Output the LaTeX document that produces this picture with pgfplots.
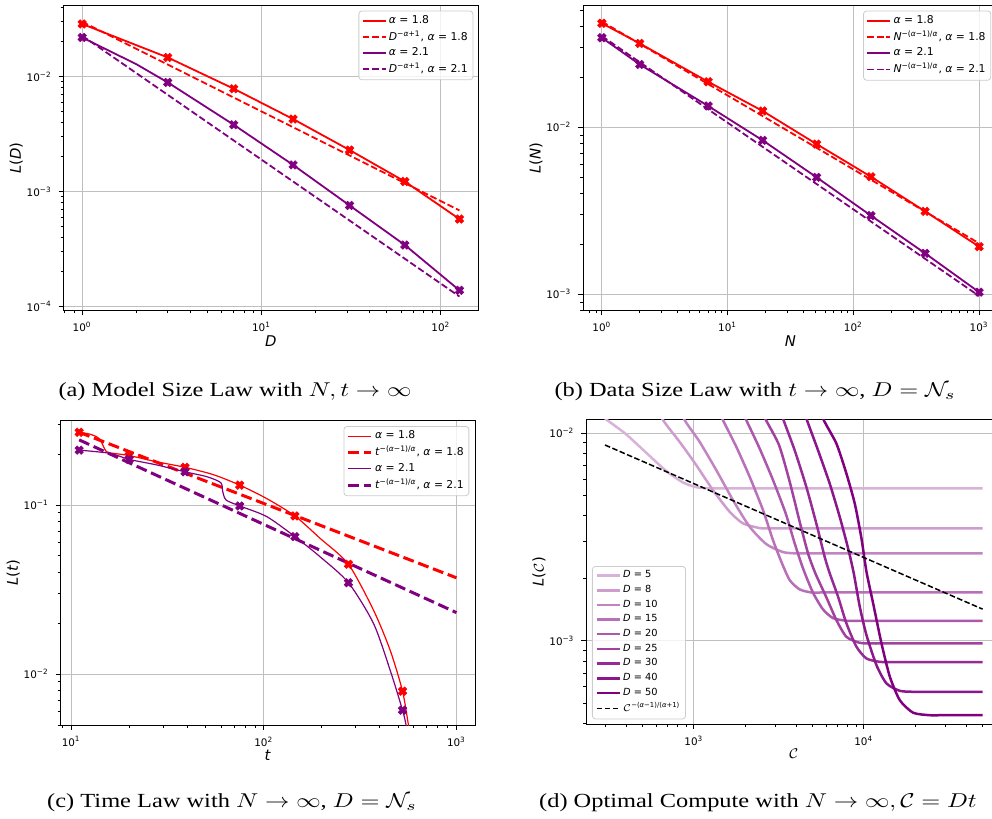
\documentclass[border=0pt]{standalone}
\usepackage{fontspec}
\setmainfont{Liberation Serif}
\newfontfamily\dv{DejaVu Sans}[ItalicFont={DejaVu Sans Oblique}]
\usepackage{pgfplots}
\pgfplotsset{compat=1.18}

\definecolor{mplred}{RGB}{255,0,0}
\definecolor{mplpurple}{RGB}{128,0,128}

% filled "X" marker like matplotlib's 'X'
\pgfdeclareplotmark{X}{%
  \pgftransformrotate{45}%
  \pgfpathmoveto{\pgfqpoint{0.36\pgfplotmarksize}{\pgfplotmarksize}}%
  \pgfpathlineto{\pgfqpoint{0.36\pgfplotmarksize}{0.36\pgfplotmarksize}}%
  \pgfpathlineto{\pgfqpoint{\pgfplotmarksize}{0.36\pgfplotmarksize}}%
  \pgfpathlineto{\pgfqpoint{\pgfplotmarksize}{-0.36\pgfplotmarksize}}%
  \pgfpathlineto{\pgfqpoint{0.36\pgfplotmarksize}{-0.36\pgfplotmarksize}}%
  \pgfpathlineto{\pgfqpoint{0.36\pgfplotmarksize}{-\pgfplotmarksize}}%
  \pgfpathlineto{\pgfqpoint{-0.36\pgfplotmarksize}{-\pgfplotmarksize}}%
  \pgfpathlineto{\pgfqpoint{-0.36\pgfplotmarksize}{-0.36\pgfplotmarksize}}%
  \pgfpathlineto{\pgfqpoint{-\pgfplotmarksize}{-0.36\pgfplotmarksize}}%
  \pgfpathlineto{\pgfqpoint{-\pgfplotmarksize}{0.36\pgfplotmarksize}}%
  \pgfpathlineto{\pgfqpoint{-0.36\pgfplotmarksize}{0.36\pgfplotmarksize}}%
  \pgfpathlineto{\pgfqpoint{-0.36\pgfplotmarksize}{\pgfplotmarksize}}%
  \pgfpathclose
  \pgfusepathqfillstroke
}

\newcommand{\ia}{\textit{α}}
\newcommand{\capt}[1]{\scalebox{1.22}[1]{\fontsize{10}{12}\selectfont #1}}

\pgfplotsset{
  log number format basis/.code 2 args={\pgfmathtruncatemacro\tmpe{#2}10\textsuperscript{\ifnum\tmpe<0 −\number-\tmpe\else\tmpe\fi}},
  legend image code/.code={\draw[#1] (0pt,0pt) -- (11.5pt,0pt);},
  panel/.style={
    scale only axis, width=207.5pt, height=152.5pt, anchor=north west,
    axis line style={black, line width=0.45pt},
    tick align=outside, tick pos=left,
    major tick length=2.3pt, minor tick length=1.3pt,
    tick style={black, line width=0.4pt},
    xmajorgrids, ymajorgrids, major grid style={black!25, line width=0.45pt},
    tick label style={font=\dv\fontsize{5.2}{6}\selectfont},
    label style={font=\dv\fontsize{7.4}{8.5}\selectfont},
    xlabel style={yshift=5pt}, ylabel style={yshift=-5pt},
    legend cell align=left,
    legend style={draw=black!20, fill=white, fill opacity=0.8, text opacity=1,
      rounded corners=1.5pt, font=\dv\fontsize{5.4}{6.4}\selectfont,
      inner xsep=1.5pt, inner ysep=1pt, row sep=0pt, nodes={inner sep=1.1pt}},
  },
  pts/.style={only marks, mark=X, mark size=2.2pt, mark options={solid, line width=0.3pt}, forget plot},
  dcurve/.style={line width=1.25pt, smooth, tension=0.4},
}

\begin{document}
\begin{tikzpicture}
\useasboundingbox (0,0) rectangle (496pt,-409.5pt);
\clip (0,0) rectangle (496pt,-409.5pt);

% ---------------- (a) model size law
\begin{loglogaxis}[panel, at={(31.65pt,-2.85pt)},
  xmin=0.785, xmax=161.8, ymin=9.18e-5, ymax=0.0412,
  xlabel={\textit{D}}, ylabel={\textit{L}(\textit{D})},
  legend style={at={(0.988,0.984)}, anchor=north east}]
\addplot[mplred, line width=0.9pt] coordinates {
  (1,0.0286) (3,0.01462) (7,0.00782) (15,0.00426) (31,0.00229) (63,0.00122) (127,0.000575)};
\addlegendentry{\ia\ = 1.8}
\addplot[mplred, pts] coordinates {
  (1,0.0286) (3,0.01462) (7,0.00782) (15,0.00426) (31,0.00229) (63,0.00122) (127,0.000575)};
\addplot[mplred, line width=0.9pt, dash pattern=on 3.3pt off 1.45pt] coordinates {
  (1,0.0299) (127,0.000684)};
\addlegendentry{\textit{D}\textsuperscript{−\ia+1}, \ia\ = 1.8}
\addplot[mplpurple, line width=0.9pt] coordinates {
  (1,0.0218) (2,0.0128) (3,0.00887) (7,0.0038) (15,0.0017) (31,0.000755) (63,0.000342) (127,0.000138)};
\addlegendentry{\ia\ = 2.1}
\addplot[mplpurple, pts] coordinates {
  (1,0.0218) (3,0.00887) (7,0.0038) (15,0.0017) (31,0.000755) (63,0.000342) (127,0.000138)};
\addplot[mplpurple, line width=0.9pt, dash pattern=on 3.3pt off 1.45pt] coordinates {
  (1,0.0226) (127,0.000122)};
\addlegendentry{\textit{D}\textsuperscript{−\ia+1}, \ia\ = 2.1}
\end{loglogaxis}

% ---------------- (b) data size law
\begin{loglogaxis}[panel, at={(291.5pt,-2.85pt)},
  xmin=0.708, xmax=1413, ymin=7.98e-4, ymax=0.0535,
  xlabel={\textit{N}}, ylabel={\textit{L}(\textit{N})},
  legend style={at={(0.675,0.984)}, anchor=north west}]
\addplot[mplred, line width=0.9pt] coordinates {
  (1,0.0420) (2,0.0318) (7,0.01875) (19,0.01253) (51,0.00794) (138,0.00506) (372,0.00314) (1000,0.00193)};
\addlegendentry{\ia\ = 1.8}
\addplot[mplred, pts] coordinates {
  (1,0.0420) (2,0.0318) (7,0.01875) (19,0.01253) (51,0.00794) (138,0.00506) (372,0.00314) (1000,0.00193)};
\addplot[mplred, line width=0.9pt, dash pattern=on 3.3pt off 1.45pt] coordinates {
  (1,0.0430) (1000,0.00202)};
\addlegendentry{\textit{N}\textsuperscript{−(\ia−1)/\ia}, \ia\ = 1.8}
\addplot[mplpurple, line width=0.9pt] coordinates {
  (1,0.0344) (2,0.0238) (7,0.01343) (19,0.00836) (51,0.00502) (138,0.00296) (372,0.00176) (1000,0.00103)};
\addlegendentry{\ia\ = 2.1}
\addplot[mplpurple, pts] coordinates {
  (1,0.0344) (2,0.0238) (7,0.01343) (19,0.00836) (51,0.00502) (138,0.00296) (372,0.00176) (1000,0.00103)};
\addplot[mplpurple, line width=0.9pt, dash pattern=on 3.3pt off 1.45pt] coordinates {
  (1,0.0352) (1000,0.000977)};
\addlegendentry{\textit{N}\textsuperscript{−(\ia−1)/\ia}, \ia\ = 2.1}
\end{loglogaxis}

% ---------------- (c) time law
\begin{loglogaxis}[panel, at={(30.15pt,-210pt)},
  xmin=8.78, xmax=1253, ymin=0.005, ymax=0.318,
  xlabel={\textit{t}}, ylabel={\textit{L}(\textit{t})},
  legend style={at={(0.9855,0.980)}, anchor=north east}]
\addplot[mplred, line width=0.6pt, smooth, tension=0.45] coordinates {
  (11,0.269) (12.55,0.262) (14.03,0.246) (15.2,0.207) (16.6,0.202) (20,0.196) (27.8,0.180)
  (39,0.167) (54.8,0.151) (75,0.131) (103.7,0.109) (145,0.0861) (196,0.0635) (275,0.0446)
  (371,0.0239) (452.6,0.01387) (525,0.00793) (563.7,0.00499) (586,0.0039)};
\addlegendentry{\ia\ = 1.8}
\addplot[mplred, pts] coordinates {
  (11,0.269) (20,0.196) (39,0.167) (75,0.131) (145,0.0861) (275,0.0446) (525,0.00793)};
\addplot[mplred, line width=1.5pt, dash pattern=on 5.5pt off 2.4pt] coordinates {
  (11,0.269) (1000,0.0371)};
\addlegendentry{\textit{t}\textsuperscript{−(\ia−1)/\ia}, \ia\ = 1.8}
\addplot[mplpurple, line width=0.6pt, smooth, tension=0.45] coordinates {
  (11,0.211) (15.9,0.202) (20,0.186) (27.8,0.1725) (39,0.157) (50.6,0.147) (59.8,0.1355)
  (61.2,0.120) (63.7,0.107) (75,0.0987) (103.7,0.0853) (145,0.065) (196,0.0494) (275,0.0347)
  (371,0.01995) (452.6,0.01057) (525,0.00612) (548,0.00499) (570,0.0039)};
\addlegendentry{\ia\ = 2.1}
\addplot[mplpurple, pts] coordinates {
  (11,0.211) (20,0.186) (39,0.157) (75,0.0987) (145,0.065) (275,0.0347) (525,0.00612)};
\addplot[mplpurple, line width=1.5pt, dash pattern=on 5.5pt off 2.4pt] coordinates {
  (11,0.2426) (1000,0.0231)};
\addlegendentry{\textit{t}\textsuperscript{−(\ia−1)/\ia}, \ia\ = 2.1}
\end{loglogaxis}

% ---------------- (d) optimal compute
\begin{loglogaxis}[panel, at={(293pt,-209.65pt)}, width=207.75pt,
  xmin=232, xmax=64600, ymin=3.96e-4, ymax=0.01168,
  xlabel={$\mathcal{C}$}, ylabel={\textit{L}($\mathcal{C}$)},
  legend style={at={(0.0144,0.0164)}, anchor=south west,
    font=\dv\fontsize{4.9}{6}\selectfont}]
\addplot[mplpurple!30, dcurve] coordinates {
  (300,0.01177) (395.6,0.009963) (518.9,0.008128) (680.8,0.006631) (853.5,0.005825)
  (1023,0.005510) (1226,0.005429) (1450,0.005429) (1700,0.005429) (50000,0.005429)};
\addlegendentry{\textit{D} = 5}
\addplot[mplpurple!39, dcurve] coordinates {
  (547.9,0.01618) (650.7,0.01177) (823.2,0.009116) (1032,0.007036) (1294,0.005329)
  (1623,0.004191) (1945,0.003681) (2438,0.003494) (2800,0.003481) (3200,0.003481) (50000,0.003481)};
\addlegendentry{\textit{D} = 8}
\addplot[mplpurple!48, dcurve] coordinates {
  (751.8,0.01618) (873.2,0.01177) (1080,0.009116) (1354,0.006656) (1698,0.004771)
  (2129,0.003547) (2669,0.002925) (3346,0.002677) (4010,0.002638) (4600,0.002638)
  (5300,0.002638) (50000,0.002638)};
\addlegendentry{\textit{D} = 10}
\addplot[mplpurple!56, dcurve] coordinates {
  (1237,0.01618) (1469,0.01177) (1776,0.008623) (2129,0.006180) (2551,0.004269)
  (2921,0.003059) (3272,0.002404) (3664,0.001962) (4195,0.001769) (4916,0.001710)
  (5600,0.001710) (6400,0.001710) (50000,0.001710)};
\addlegendentry{\textit{D} = 15}
\addplot[mplpurple!65, dcurve] coordinates {
  (1698,0.01618) (2016,0.01177) (2416,0.008591) (2895,0.006067) (3470,0.004113)
  (3921,0.002948) (4389,0.002233) (5028,0.001704) (5758,0.001416) (6597,0.001286)
  (7904,0.001249) (9000,0.001249) (10300,0.001249) (50000,0.001249)};
\addlegendentry{\textit{D} = 20}
\addplot[mplpurple!74, dcurve] coordinates {
  (2227,0.01618) (2633,0.01177) (3170,0.008784) (3664,0.005847) (4195,0.003750)
  (4698,0.002638) (5190,0.002113) (6026,0.001618) (6902,0.001258) (7904,0.001045)
  (9471,0.000978) (11350,0.000971) (13000,0.000971) (15000,0.000971) (50000,0.000971)};
\addlegendentry{\textit{D} = 25}
\addplot[mplpurple!83, dcurve] coordinates {
  (2921,0.01618) (3346,0.01177) (3921,0.008279) (4593,0.005510) (5260,0.003667)
  (5890,0.002533) (6304,0.002113) (7060,0.001630) (7904,0.001213) (9054,0.000936)
  (10368,0.000822) (12427,0.000792) (14891,0.000789) (17000,0.000789) (19500,0.000789)
  (50000,0.000789)};
\addlegendentry{\textit{D} = 30}
\addplot[mplpurple!91, dcurve] coordinates {
  (4010,0.01618) (4593,0.01177) (5380,0.008279) (6304,0.005718) (7221,0.003949)
  (8085,0.002788) (8730,0.002113) (9471,0.001459) (10368,0.001065) (11875,0.000763)
  (13601,0.000623) (16300,0.000574) (19540,0.000568) (22500,0.000568) (26000,0.000568)
  (50000,0.000568)};
\addlegendentry{\textit{D} = 40}
\addplot[mplpurple, dcurve] coordinates {
  (5028,0.01618) (5758,0.01177) (6902,0.008916) (7904,0.006391) (8851,0.004580)
  (9688,0.003115) (10368,0.002152) (11350,0.001514) (12710,0.000971) (14230,0.000671)
  (16300,0.000517) (19540,0.000450) (24490,0.000438) (28000,0.000438) (32000,0.000438)
  (50000,0.000438)};
\addlegendentry{\textit{D} = 50}
\addplot[black, line width=0.75pt, dash pattern=on 2.8pt off 1.2pt] coordinates {
  (300,0.008784) (50000,0.001421)};
\addlegendentry{$\mathcal{C}$\textsuperscript{−(\ia−1)/(\ia+1)}}
\end{loglogaxis}

% ---------------- captions
\node at (117.5pt,-196pt) {\capt{(a) Model Size Law with $N, t \rightarrow \infty$}};
\node at (377.5pt,-196pt) {\capt{(b) Data Size Law with $t \rightarrow \infty$, $D = \mathcal{N}_s$}};
\node at (116pt,-401.5pt) {\capt{(c) Time Law with $N \rightarrow \infty$, $D = \mathcal{N}_s$}};
\node at (379pt,-401.5pt) {\capt{(d) Optimal Compute with $N \rightarrow \infty, \mathcal{C} = Dt$}};
\end{tikzpicture}
\end{document}
